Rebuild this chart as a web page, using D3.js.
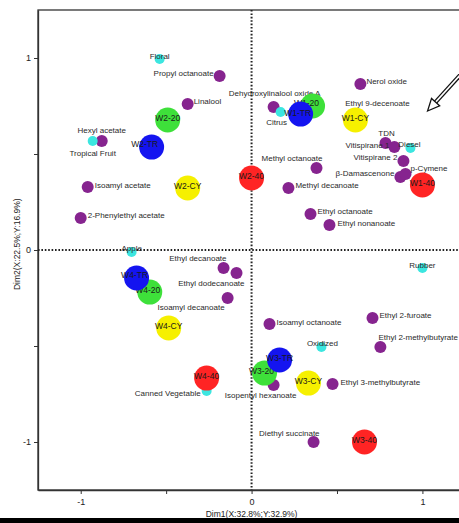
<!DOCTYPE html>
<html>
<head>
<meta charset="utf-8">
<script src="https://cdn.jsdelivr.net/npm/d3@7"></script>
<style>
  body { margin: 0; background: #fff; }
  text { font-family: "Liberation Sans", Arial, sans-serif; }
</style>
</head>
<body>
<script>
// volatile compounds (purple)
const compounds = ['Propyl octanoate', 'Linalool', 'Hexyl acetate', 'Dehydroxylinalool oxide A',
  'Nerol oxide', 'Ethyl 9-decenoate', 'Methyl octanoate', 'TDN', 'Vitispirane 1', 'Vitispirane 2',
  'β-Damascenone', 'p-Cymene', 'Methyl decanoate', 'Ethyl octanoate', 'Ethyl nonanoate',
  'Isoamyl acetate', '2-Phenylethyl acetate', 'Ethyl decanoate', 'Ethyl dodecanoate',
  'Isoamyl decanoate', 'Isoamyl octanoate', 'Ethyl 2-furoate', 'Ethyl 2-methylbutyrate',
  'Ethyl 3-methylbutyrate', 'Isopentyl hexanoate', 'Diethyl succinate'];
const compoundX = [-0.187, -0.374, -0.877, 0.129, 0.637, 0.608, 0.380, 0.784, 0.836, 0.889,
  0.871, 0.901, 0.216, 0.345, 0.456, -0.959, -1.0, -0.164, -0.088, -0.140, 0.105, 0.708,
  0.754, 0.474, 0.129, 0.363];
const compoundY = [0.906, 0.760, 0.568, 0.745, 0.865, 0.688, 0.427, 0.557, 0.536, 0.464,
  0.380, 0.396, 0.323, 0.188, 0.130, 0.328, 0.167, -0.094, -0.120, -0.250, -0.385, -0.354,
  -0.505, -0.698, -0.703, -1.0];

// sensory attributes (cyan)
const aromas = ['Floral', 'Tropical Fruit', 'Citrus', 'Diesel', 'Apple', 'Rubber', 'Oxidized', 'Canned Vegetable'];
const aromaX = [-0.538, -0.930, 0.170, 0.930, -0.702, 1.0, 0.409, -0.263];
const aromaY = [0.995, 0.568, 0.719, 0.531, -0.010, -0.094, -0.505, -0.734];

// wine samples
const samples = ['W1-20', 'W1-TR', 'W1-CY', 'W1-40', 'W2-20', 'W2-TR', 'W2-CY', 'W2-40',
  'W3-20', 'W3-TR', 'W3-CY', 'W3-40', 'W4-20', 'W4-TR', 'W4-CY', 'W4-40'];
const sampleX = [0.357, 0.287, 0.608, 1.0, -0.491, -0.585, -0.374, 0.0,
  0.076, 0.164, 0.333, 0.661, -0.596, -0.673, -0.485, -0.263];
const sampleY = [0.750, 0.708, 0.677, 0.339, 0.677, 0.536, 0.323, 0.375,
  -0.641, -0.573, -0.693, -1.0, -0.219, -0.146, -0.406, -0.667];

const treatments = ['TR', '20', 'CY', '40'];
const axisTicks = [-1, -0.5, 0, 0.5, 1];
const xTitle = 'Dim1(X:32.8%;Y:32.9%)';
const yTitle = 'Dim2(X:22.5%;Y:16.9%)';

// label placement: [dx, dy, anchor]
const labelAt = {
  'Propyl octanoate': [-6, -3, 'end'], 'Linalool': [6, -3, 'start'],
  'Hexyl acetate': [0, -11, 'middle'], 'Dehydroxylinalool oxide A': [1, -14, 'middle'],
  'Nerol oxide': [6, -3, 'start'], 'Ethyl 9-decenoate': [22, -15, 'middle'],
  'Methyl octanoate': [6, -10, 'end'], 'TDN': [1, -10, 'middle'],
  'Vitispirane 1': [-5, -2, 'end'], 'Vitispirane 2': [-6, -4, 'end'],
  'β-Damascenone': [-6, -4, 'end'], 'p-Cymene': [5, -6, 'start'],
  'Methyl decanoate': [7, -3, 'start'], 'Ethyl octanoate': [7, -3, 'start'],
  'Ethyl nonanoate': [8, -2, 'start'], 'Isoamyl acetate': [7, -2, 'start'],
  '2-Phenylethyl acetate': [7, -3, 'start'], 'Ethyl decanoate': [3, -10, 'end'],
  'Ethyl dodecanoate': [8, 10, 'end'], 'Isoamyl decanoate': [-3, 9, 'end'],
  'Isoamyl octanoate': [7, -2, 'start'], 'Ethyl 2-furoate': [7, -3, 'start'],
  'Ethyl 2-methylbutyrate': [-2, -10, 'start'], 'Ethyl 3-methylbutyrate': [8, -2, 'start'],
  'Isopentyl hexanoate': [-13, 10, 'middle'], 'Diethyl succinate': [6, -9, 'end'],
  'Floral': [0, -3, 'middle'], 'Tropical Fruit': [0, 12, 'middle'], 'Citrus': [-4, 10, 'middle'],
  'Diesel': [-1, -4, 'middle'], 'Apple': [0, -4, 'middle'], 'Rubber': [0, -3, 'middle'],
  'Oxidized': [1, -4, 'middle'], 'Canned Vegetable': [-6, 2, 'end'],
  'W2-TR': [-7, -3, 'middle'], 'W1-TR': [-3, -1, 'middle'], 'W1-20': [-6, -3, 'middle'],
  'W4-TR': [-2, -3, 'middle'], 'W4-20': [-2, -2, 'middle'], 'W3-20': [-3, -2, 'middle']
};

const width = 459, height = 523;
const svg = d3.select('body').append('svg')
  .attr('width', width)
  .attr('height', height);

const x = d3.scaleLinear().domain([-1.25, 1.22]).range([38, 460]);
const y = d3.scaleLinear().domain([-1.25, 1.25]).range([490, 10]);

const color = d3.scaleOrdinal()
  .domain(treatments)
  .range(['#1414f0', '#3ee03a', '#f6f000', '#ff2424']);

// frame
svg.append('rect')
  .attr('x', x(-1.25)).attr('y', y(1.25))
  .attr('width', x(1.22) - x(-1.25)).attr('height', y(-1.25) - y(1.25))
  .attr('fill', 'none').attr('stroke', '#333').attr('stroke-width', 1.3);

const fmt = d => Number.isInteger(d) ? String(d) : '';

const gx = svg.append('g')
  .attr('transform', `translate(0, ${y(-1.25)})`)
  .call(d3.axisBottom(x).tickValues(axisTicks).tickFormat(fmt).tickSize(4).tickSizeOuter(0).tickPadding(5));
const gy = svg.append('g')
  .attr('transform', `translate(${x(-1.25)}, 0)`)
  .call(d3.axisLeft(y).tickValues(axisTicks).tickFormat(fmt).tickSize(4).tickSizeOuter(0).tickPadding(3));
[gx, gy].forEach(g => {
  g.select('.domain').attr('stroke', '#333').attr('stroke-width', 1.3);
  g.selectAll('.tick line').attr('stroke', '#333');
  g.selectAll('.tick text').attr('font-size', 9).attr('fill', '#222')
    .style('font-family', '"Liberation Sans", Arial, sans-serif');
});

// zero reference lines
svg.append('line')
  .attr('x1', x(0)).attr('x2', x(0)).attr('y1', y(1.25)).attr('y2', y(-1.25))
  .attr('stroke', '#222').attr('stroke-width', 2).attr('stroke-dasharray', '1.6,1.8');
svg.append('line')
  .attr('x1', x(-1.25)).attr('x2', x(1.22)).attr('y1', y(0)).attr('y2', y(0))
  .attr('stroke', '#222').attr('stroke-width', 2).attr('stroke-dasharray', '1.6,1.8');

// axis titles
svg.append('text')
  .attr('x', x(0)).attr('y', 517)
  .attr('text-anchor', 'middle').attr('font-size', 8.5).attr('fill', '#222')
  .text(xTitle);
svg.append('text')
  .attr('transform', `translate(20, ${y(0.03)}) rotate(-90)`)
  .attr('text-anchor', 'middle').attr('font-size', 8.5).attr('fill', '#222')
  .text(yTitle);

function place(name) {
  return labelAt[name] || [0, -2, 'middle'];
}

function addPoints(names, xs, ys, r, fill, fontSize, textColor) {
  const data = names.map((n, i) => ({ name: n, x: xs[i], y: ys[i] }));
  const g = svg.append('g');
  g.selectAll('circle').data(data).enter().append('circle')
    .attr('cx', d => x(d.x)).attr('cy', d => y(d.y)).attr('r', r)
    .attr('fill', fill);
  g.selectAll('text').data(data).enter().append('text')
    .attr('x', d => x(d.x) + place(d.name)[0])
    .attr('y', d => y(d.y) + place(d.name)[1])
    .attr('dy', '0.35em')
    .attr('text-anchor', d => place(d.name)[2])
    .attr('font-size', fontSize).attr('fill', textColor)
    .text(d => d.name);
}

addPoints(compounds, compoundX, compoundY, 6, '#86248f', 8, '#2a2a2a');
addPoints(aromas, aromaX, aromaY, 5, '#3ce6e0', 8, '#2a2a2a');

// samples: each circle with its own label so later ones cover earlier ones
const sampleData = samples.map((n, i) => ({ name: n, x: sampleX[i], y: sampleY[i], t: n.split('-')[1] }));
const sg = svg.selectAll('g.sample').data(sampleData).enter().append('g').attr('class', 'sample');
sg.append('circle')
  .attr('cx', d => x(d.x)).attr('cy', d => y(d.y)).attr('r', 12.5)
  .attr('fill', d => color(d.t));
sg.append('text')
  .attr('x', d => x(d.x) + place(d.name)[0])
  .attr('y', d => y(d.y) + place(d.name)[1])
  .attr('dy', '0.35em')
  .attr('text-anchor', 'middle')
  .attr('font-size', 8.5).attr('fill', '#1a1a1a')
  .text(d => d.name);

// outlined arrow in the top right corner
const arrowTail = [1.245, 0.935], arrowTip = [1.03, 0.724];
const tx = x(arrowTip[0]), ty = y(arrowTip[1]);
const ax = x(arrowTail[0]), ay = y(arrowTail[1]);
const len = Math.hypot(ax - tx, ay - ty);
const ux = (ax - tx) / len, uy = (ay - ty) / len;
const bx = tx + ux * 12, by = ty + uy * 12;
svg.append('line')
  .attr('x1', ax).attr('y1', ay).attr('x2', bx).attr('y2', by)
  .attr('stroke', '#111').attr('stroke-width', 4.2);
svg.append('line')
  .attr('x1', ax).attr('y1', ay).attr('x2', bx - ux * 1).attr('y2', by - uy * 1)
  .attr('stroke', '#fff').attr('stroke-width', 1.6);
svg.append('path')
  .attr('d', `M${tx},${ty} L${bx - uy * 5.5},${by + ux * 5.5} L${bx + uy * 5.5},${by - ux * 5.5} Z`)
  .attr('fill', '#fff').attr('stroke', '#111').attr('stroke-width', 1.3)
  .attr('stroke-linejoin', 'miter');

// dark band along the bottom edge
svg.append('rect')
  .attr('x', 0).attr('y', 518).attr('width', width).attr('height', 5)
  .attr('fill', '#000');
</script>
</body>
</html>
